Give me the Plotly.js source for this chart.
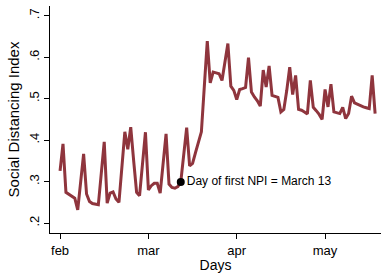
<!DOCTYPE html>
<html>
<head>
<meta charset="utf-8">
<script src="https://cdn.plot.ly/plotly-3.0.1.min.js"></script>
<style>html,body{margin:0;padding:0;background:#fff;}#chart{width:381px;height:273px;}</style>
</head>
<body>
<div id="chart"></div>
<script>
// Daily values, Feb 1 2020 (day 0) to May 18 2020
var startDate = "2020-02-01";
var sdiValues = [
  0.326, 0.391, 0.274, 0.270, 0.266, 0.260, 0.232, 0.300, 0.367, 0.270,
  0.252, 0.247, 0.246, 0.244, 0.320, 0.396, 0.248, 0.272, 0.275, 0.258,
  0.250, 0.340, 0.420, 0.378, 0.431, 0.350, 0.274, 0.266, 0.340, 0.419,
  0.280, 0.290, 0.296, 0.296, 0.272, 0.340, 0.415, 0.294, 0.286, 0.284,
  0.288, 0.299, 0.360, 0.430, 0.338, 0.344, 0.370, 0.395, 0.420, 0.530,
  0.639, 0.538, 0.564, 0.562, 0.560, 0.544, 0.590, 0.633, 0.530, 0.520,
  0.498, 0.522, 0.524, 0.527, 0.599, 0.516, 0.504, 0.495, 0.482, 0.569,
  0.528, 0.579, 0.508, 0.505, 0.503, 0.468, 0.474, 0.520, 0.576, 0.510,
  0.556, 0.474, 0.472, 0.468, 0.463, 0.544, 0.479, 0.471, 0.462, 0.450,
  0.522, 0.480, 0.535, 0.468, 0.466, 0.464, 0.479, 0.452, 0.464, 0.506,
  0.490, 0.486, 0.482, 0.480, 0.478, 0.476, 0.556, 0.464
];
var npiDate = ["2020-03-13"];
var npiValue = [0.299];
var npiLabel = ["Day of first NPI = March 13"];
var xTickVals = ["2020-02-01", "2020-03-02", "2020-04-01", "2020-05-01"];
var xTickText = ["feb", "mar", "apr", "may"];
var yTickVals = [0.2, 0.3, 0.4, 0.5, 0.6, 0.7];
var yTickText = [".2", ".3", ".4", ".5", ".6", ".7"];

function dayString(i) {
  var d = new Date(startDate + "T00:00:00Z");
  d.setUTCDate(d.getUTCDate() + i);
  return d.toISOString().slice(0, 10);
}
var days = sdiValues.map(function (v, i) { return dayString(i); });

var font = "Liberation Sans, Arial, sans-serif";
var traces = [
  {
    x: days, y: sdiValues, type: "scatter", mode: "lines",
    line: {color: "#8f353d", width: 3},
    hoverinfo: "skip"
  },
  {
    x: npiDate, y: npiValue, type: "scatter", mode: "markers+text",
    marker: {color: "#000", size: 8},
    text: npiLabel, textposition: "middle right",
    textfont: {family: font, size: 12, color: "#000"},
    hoverinfo: "skip"
  }
];
var layout = {
  width: 381, height: 273,
  margin: {l: 50, r: 0, t: 6, b: 40, pad: 0},
  paper_bgcolor: "#fff", plot_bgcolor: "#fff",
  showlegend: false,
  font: {family: font, size: 13, color: "#000"},
  xaxis: {
    type: "date",
    range: ["2020-01-28 14:00", "2020-05-20 00:00"],
    tickmode: "array", tickvals: xTickVals, ticktext: xTickText,
    ticks: "outside", ticklen: 5, tickwidth: 1, tickcolor: "#000",
    showline: true, linecolor: "#000", linewidth: 1,
    showgrid: false, zeroline: false,
    tickfont: {family: font, size: 13, color: "#000"},
    title: {text: "Days", font: {family: font, size: 14, color: "#000"}, standoff: 0}
  },
  yaxis: {
    range: [0.176, 0.7234],
    tickmode: "array", tickvals: yTickVals, ticktext: yTickText,
    tickangle: -90,
    ticks: "outside", ticklen: 5, tickwidth: 1, tickcolor: "#000",
    showline: true, linecolor: "#000", linewidth: 1,
    showgrid: false, zeroline: false,
    tickfont: {family: font, size: 13, color: "#000"},
    title: {text: "Social Distancing Index", font: {family: font, size: 15, color: "#000"}, standoff: 3}
  }
};
Plotly.newPlot("chart", traces, layout, {displayModeBar: false, staticPlot: true});
</script>
</body>
</html>
